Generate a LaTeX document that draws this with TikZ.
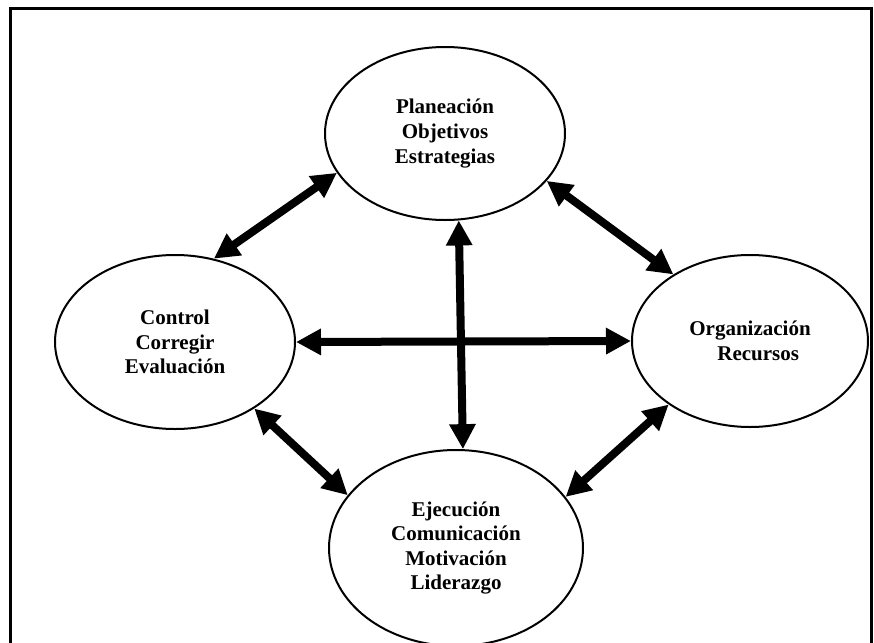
\documentclass[tikz,border=0pt]{standalone}
\usepackage{fontspec}
\setmainfont{Liberation Serif}
\usepackage{tikz}
\usetikzlibrary{arrows.meta,shapes.geometric}

\begin{document}
\begin{tikzpicture}[x=0.5pt,y=-0.5pt,>={Triangle[length=12.5pt,width=12.5pt]},
    stage/.style={ellipse,draw,line width=1pt,inner sep=0pt,align=center,
      font=\fontsize{10.5}{12.3}\selectfont\bfseries},
    link/.style={<->,line width=4pt}]
    \clip (0,0) rectangle (874,643);
    \draw[line width=1.5pt] (10,700) -- (10,8) -- (871,8) -- (871,700);

    \node[stage,minimum width=120pt,minimum height=86.5pt] (plan) at (445,133.5)
      {Planeación\\Objetivos\\Estrategias};
    \node[stage,minimum width=120pt,minimum height=87pt] (ctrl) at (175,342)
      {Control\\Corregir\\Evaluación};
    \node[stage,minimum width=118pt,minimum height=86pt,align=left] (org) at (750,341)
      {Organización\\\hspace*{14pt}Recursos};
    \node[stage,minimum width=127pt,minimum height=98pt] (exe) at (456,548)
      {Ejecución\\Comunicación\\Motivación\\Liderazgo};

    \path[link]
    (plan.200) edge (ctrl.65)
    (plan.335) edge (org.139)

    (ctrl.east) edge (org.west)
    (plan.279) edge (exe.86)

    (ctrl.320) edge (exe.154)
    (org.218) edge (exe.25)
    ;
\end{tikzpicture}
\end{document}
